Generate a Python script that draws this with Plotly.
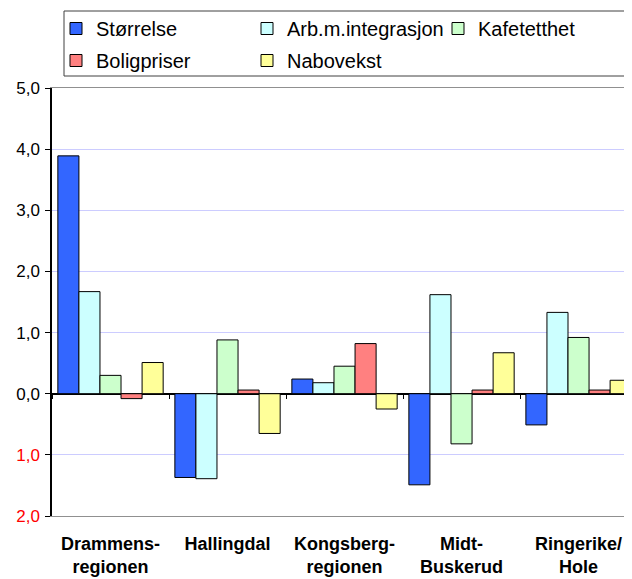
import plotly.graph_objects as go

regions = ["Drammens-<br>regionen", "Hallingdal", "Kongsberg-<br>regionen",
           "Midt-<br>Buskerud", "Ringerike/<br>Hole"]

series_names = ["Størrelse", "Arb.m.integrasjon", "Kafetetthet", "Boligpriser", "Nabovekst"]
storrelse = [3.89, -1.37, 0.24, -1.49, -0.51]
arb_integrasjon = [1.67, -1.39, 0.18, 1.62, 1.33]
kafetetthet = [0.30, 0.88, 0.45, -0.82, 0.92]
boligpriser = [-0.08, 0.06, 0.82, 0.06, 0.06]
nabovekst = [0.51, -0.65, -0.25, 0.67, 0.22]

y_ticks = [-2, -1, 0, 1, 2, 3, 4, 5]
y_ticktext = ['<span style="color:#FF0000">2,0</span>', '<span style="color:#FF0000">1,0</span>',
              "0,0", "1,0", "2,0", "3,0", "4,0", "5,0"]

COLORS = ["#3366FF", "#CCFFFF", "#CCFFCC", "#FF8080", "#FFFF99"]
LEGEND_ROW = ["legend", "legend", "legend", "legend2", "legend2"]
FONT = "Liberation Sans, Arial, sans-serif"

# page body adds an 8px margin, so the figure is sized to the visible area
W, H = 624, 571

fig = go.Figure()
for name, vals, col, lg in zip(series_names,
                               [storrelse, arb_integrasjon, kafetetthet, boligpriser, nabovekst],
                               COLORS, LEGEND_ROW):
    fig.add_trace(go.Bar(x=regions, y=vals, name=name, marker_color=col, legend=lg,
                         marker_line=dict(color="#000000", width=1)))

# helper axis carrying the small category ticks on the zero line
fig.add_trace(go.Scatter(x=regions, y=[0] * len(regions), xaxis="x2", mode="markers",
                         marker=dict(opacity=0), showlegend=False, hoverinfo="skip"))

legend_style = dict(orientation="h", xref="container", yref="container",
                    x=48 / W, xanchor="left", yanchor="top",
                    entrywidth=146, entrywidthmode="pixels",
                    font=dict(size=20, family=FONT), traceorder="normal",
                    bgcolor="rgba(0,0,0,0)")

xrange = [-0.5, 4.457]
fig.update_layout(
    width=W, height=H,
    margin=dict(l=44, r=0, t=80, b=63, autoexpand=False),
    paper_bgcolor="white", plot_bgcolor="white",
    barmode="group", bargap=0.1, bargroupgap=0,
    font=dict(family=FONT, color="#000000"),
    showlegend=True,
    legend=dict(legend_style, y=1 - 1 / H),
    legend2=dict(legend_style, y=1 - 33 / H),
    xaxis=dict(type="category", range=xrange, showgrid=False, zeroline=False,
               showline=True, linecolor="#909090", linewidth=1, mirror=True,
               ticks="", tickfont=dict(size=18, family=FONT, weight="bold"),
               ticklabelstandoff=11),
    xaxis2=dict(type="category", range=xrange, overlaying="x", anchor="free",
                position=2 / 7, side="bottom", showgrid=False, zeroline=False,
                showline=False, showticklabels=False, ticks="outside",
                tickson="boundaries", ticklen=4, tickcolor="#000000"),
    yaxis=dict(range=[-2, 5], tickvals=y_ticks, ticktext=y_ticktext,
               showgrid=True, gridcolor="#CCCCFF", gridwidth=1,
               zeroline=True, zerolinecolor="#000000", zerolinewidth=1.5,
               showline=True, linecolor="#000000", linewidth=1.5,
               ticks="outside", ticklen=5, tickcolor="#000000",
               tickfont=dict(size=17, family=FONT), ticklabelstandoff=2),
    shapes=[dict(type="rect", xref="paper", yref="paper",
                 x0=12 / 580, x1=1.05, y0=1 + 12 / 428, y1=1 + 77 / 428,
                 line=dict(color="#404040", width=1), fillcolor="rgba(0,0,0,0)")],
)

fig.write_html("out.html")
